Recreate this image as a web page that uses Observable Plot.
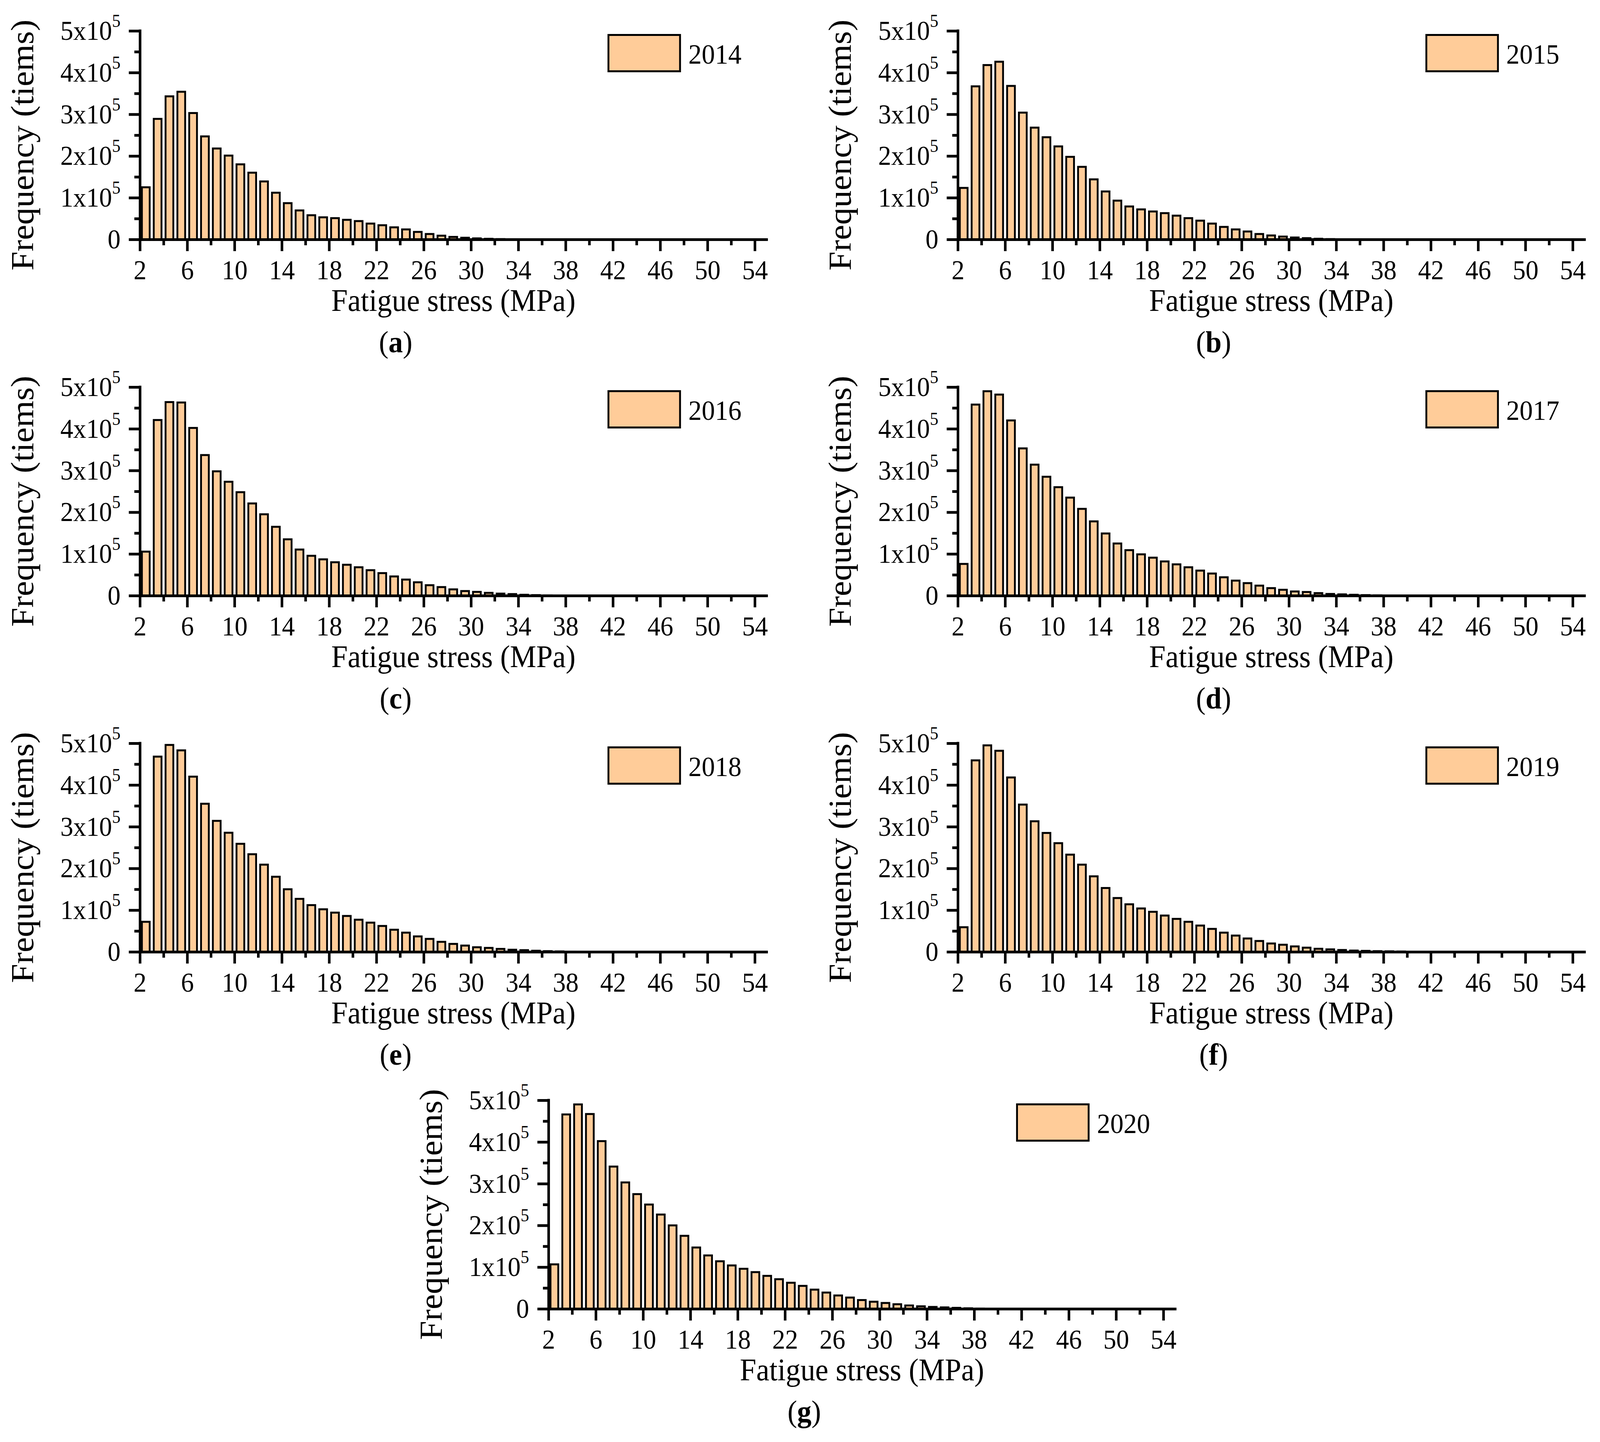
<!DOCTYPE html>
<html>
<head>
<meta charset="utf-8">
<script src="https://cdn.jsdelivr.net/npm/d3@7"></script>
<script src="https://cdn.jsdelivr.net/npm/@observablehq/plot@0.6"></script>
<style>
  html, body { margin: 0; padding: 0; background: #fff; overflow: hidden; }
  #outer { position: relative; overflow: hidden; background: #fff; }
  #fig { position: absolute; left: 0; top: 0; width: 4335px; height: 3692px; background: #fff; color: #000;
         font-family: "Liberation Serif", "Times New Roman", serif; transform-origin: 0 0; }
  .panel { position: absolute; }
  .panel svg { display: block; overflow: visible; }
  .legend-box { position: absolute; width: 199px; height: 98px; box-sizing: border-box;
                border: 5px solid #000; background: #FFCC99; }
  .legend-text { position: absolute; font-size: 72px; line-height: 0; white-space: nowrap; }
  .caption { position: absolute; font-size: 78px; line-height: 0; white-space: nowrap;
             transform: translateX(-50%); }
</style>
</head>
<body>
<div id="outer"><div id="fig"></div></div>
<script>
// ---------------- data ----------------
// Stress bins (MPa): lower and upper edges
const binStart = [2,3,4,5,6,7,8,9,10,11,12,13,14,15,16,17,18,19,20,21,22,23,24,25,26,27,28,29,30,31,32,33,34,35,36,37,38,39,40,41,42,43,44,45,46,47,48,49,50,51,52,53];
const binEnd   = [3,4,5,6,7,8,9,10,11,12,13,14,15,16,17,18,19,20,21,22,23,24,25,26,27,28,29,30,31,32,33,34,35,36,37,38,39,40,41,42,43,44,45,46,47,48,49,50,51,52,53,54];

// Frequencies per bin, in units of 10^5 times
const freq2014 = [1.25,2.89,3.43,3.54,3.03,2.47,2.18,2.01,1.80,1.60,1.39,1.12,0.87,0.695,0.58,0.53,0.51,0.47,0.44,0.38,0.34,0.29,0.24,0.18,0.13,0.09,0.06,0.04,0.025,0.015,0.008,0.005,0.003,0.002];
const freq2015 = [1.235,3.67,4.18,4.26,3.68,3.04,2.68,2.45,2.23,1.98,1.74,1.44,1.15,0.93,0.79,0.72,0.67,0.63,0.57,0.51,0.45,0.38,0.30,0.24,0.19,0.13,0.095,0.068,0.046,0.03,0.016,0.008,0.004,0.002];
const freq2016 = [1.055,4.21,4.64,4.63,4.02,3.37,2.98,2.73,2.48,2.21,1.95,1.65,1.35,1.105,0.955,0.87,0.80,0.74,0.68,0.61,0.54,0.46,0.385,0.32,0.25,0.205,0.15,0.11,0.09,0.066,0.048,0.037,0.02,0.012,0.006,0.004,0.002];
const freq2017 = [0.76,4.58,4.90,4.82,4.20,3.53,3.14,2.85,2.60,2.35,2.08,1.78,1.49,1.25,1.09,0.99,0.91,0.82,0.75,0.68,0.60,0.53,0.44,0.36,0.30,0.24,0.18,0.14,0.10,0.087,0.06,0.04,0.03,0.02,0.012,0.007,0.004,0.002];
const freq2018 = [0.72,4.68,4.96,4.83,4.20,3.55,3.14,2.855,2.59,2.34,2.09,1.80,1.50,1.27,1.12,1.02,0.94,0.86,0.77,0.70,0.62,0.53,0.46,0.37,0.31,0.24,0.19,0.15,0.11,0.094,0.07,0.05,0.04,0.026,0.016,0.01,0.005,0.002];
const freq2019 = [0.59,4.59,4.95,4.82,4.18,3.53,3.13,2.85,2.605,2.33,2.09,1.81,1.53,1.29,1.14,1.04,0.96,0.87,0.79,0.72,0.63,0.55,0.46,0.39,0.32,0.26,0.20,0.17,0.13,0.10,0.073,0.059,0.044,0.03,0.023,0.016,0.012,0.008];
const freq2020 = [1.066,4.66,4.90,4.67,4.02,3.41,3.03,2.75,2.50,2.26,2.00,1.75,1.47,1.28,1.14,1.04,0.96,0.88,0.79,0.71,0.625,0.55,0.46,0.39,0.32,0.27,0.21,0.17,0.14,0.11,0.08,0.06,0.045,0.034,0.023,0.012,0.006,0.004,0.003,0.002];

const years = ["2014","2015","2016","2017","2018","2019","2020"];
const series = [freq2014, freq2015, freq2016, freq2017, freq2018, freq2019, freq2020];
const captionLetters = ["a","b","c","d","e","f","g"];

// Tick values and labels
const xTicksMajor = [2,6,10,14,18,22,26,30,34,38,42,46,50,54];
const xTicksMinor = [4,8,12,16,20,24,28,32,36,40,44,48,52];
const yTicksMajor = [0,1,2,3,4,5];
const yTicksMinor = [0.5,1.5,2.5,3.5,4.5];
const xDomain = [2, 55];
const yDomain = [0, 5];
const xTitle = "Fatigue stress (MPa)";
const yTitle = "Frequency (tiems)";

// ---------------- layout (pixels of the 4335x3692 figure) ----------------
const FIG_W = 4335, FIG_H = 3692;
const FONT = '"Liberation Serif", "Times New Roman", serif';
const FRAME_W = 1698, FRAME_H = 534;
const ML = 379, MT = 79, MR = 40, MB = 230;
const layout = [
  {left: 379,  top: 79},
  {left: 2595, top: 79},
  {left: 379,  top: 991},
  {left: 2595, top: 991},
  {left: 379,  top: 1903},
  {left: 2595, top: 1903},
  {left: 1486, top: 2817}
];

// fit the figure to the actual viewport
const outer = document.getElementById("outer");
const fig = document.getElementById("fig");
const vw = window.innerWidth || document.documentElement.clientWidth || FIG_W;
const vh = window.innerHeight || document.documentElement.clientHeight || FIG_H;
const kx = vw / FIG_W;
const ky = vh / FIG_H;
outer.style.width = vw + "px";
outer.style.height = vh + "px";
fig.style.transform = `scale(${kx}, ${ky})`;

const SVGNS = "http://www.w3.org/2000/svg";

series.forEach((values, idx) => {
  const rows = values.map((v, i) => ({lo: binStart[i], hi: binEnd[i], base: 0, freq: v}));
  const svg = Plot.plot({
    width: ML + FRAME_W + MR,
    height: MT + FRAME_H + MB,
    marginLeft: ML, marginTop: MT, marginRight: MR, marginBottom: MB,
    x: {domain: xDomain, label: null},
    y: {domain: yDomain, label: null},
    style: {fontFamily: FONT, fontSize: "70px", color: "#000", background: "transparent", overflow: "visible"},
    marks: [
      Plot.rect(rows, {x1: "lo", x2: "hi", y1: "base", y2: "freq",
        fill: "#FFCC99", stroke: "#000", strokeWidth: 5, insetLeft: 5.5, insetRight: 5.5}),
      Plot.ruleY([yDomain[0]], {stroke: "#000", strokeWidth: 7, strokeLinecap: "square"}),
      Plot.ruleX([xDomain[0]], {stroke: "#000", strokeWidth: 7, strokeLinecap: "square"}),
      Plot.axisX(xTicksMajor, {anchor: "bottom", label: null, tickSize: 30, tickPadding: 22,
        stroke: "#000", strokeWidth: 7, fontSize: 70, tickFormat: d => String(d)}),
      Plot.axisX(xTicksMinor, {anchor: "bottom", label: null, tickSize: 15,
        stroke: "#000", strokeWidth: 7, tickFormat: () => ""}),
      Plot.axisY(yTicksMajor, {anchor: "left", label: null, tickSize: 30, tickPadding: 23,
        stroke: "#000", strokeWidth: 7, fontSize: 70,
        tickFormat: d => d === 0 ? "0" : `${d}x10\u2075`}),
      Plot.axisY(yTicksMinor, {anchor: "left", label: null, tickSize: 15,
        stroke: "#000", strokeWidth: 7, tickFormat: () => ""}),
      Plot.text([xTitle], {text: d => d, frameAnchor: "bottom", textAnchor: "middle", dy: 182,
        lineAnchor: "bottom", fontSize: 80, fill: "#000"}),
      Plot.text([yTitle], {text: d => d, frameAnchor: "left", textAnchor: "middle", rotate: -90,
        dx: -290, dy: 25, lineAnchor: "bottom", fontSize: 88, fill: "#000"})
    ]
  });

  // turn the unicode superscript into a real superscript tspan
  svg.querySelectorAll("text").forEach(t => {
    const s = t.textContent;
    if (s.endsWith("\u2075") && t.childElementCount === 0) {
      t.textContent = s.slice(0, -1);
      const ts = document.createElementNS(SVGNS, "tspan");
      ts.setAttribute("dy", "-33");
      ts.setAttribute("font-size", "46");
      ts.textContent = "5";
      t.appendChild(ts);
    }
  });

  const p = layout[idx];
  const wrap = document.createElement("div");
  wrap.className = "panel";
  wrap.style.left = (p.left - ML) + "px";
  wrap.style.top = (p.top - MT) + "px";
  wrap.appendChild(svg);
  fig.appendChild(wrap);

  // legend
  const box = document.createElement("div");
  box.className = "legend-box";
  box.style.left = (p.left + 1267) + "px";
  box.style.top = (p.top + 8) + "px";
  fig.appendChild(box);
  const lt = document.createElement("div");
  lt.className = "legend-text";
  lt.style.left = (p.left + 1486) + "px";
  lt.style.top = (p.top + 60) + "px";
  lt.textContent = years[idx];
  fig.appendChild(lt);

  // caption
  const cap = document.createElement("div");
  cap.className = "caption";
  cap.style.left = (p.left + 693) + "px";
  cap.style.top = (p.top + FRAME_H + 263) + "px";
  cap.innerHTML = "(<b>" + captionLetters[idx] + "</b>)";
  fig.appendChild(cap);
});
</script>
</body>
</html>
